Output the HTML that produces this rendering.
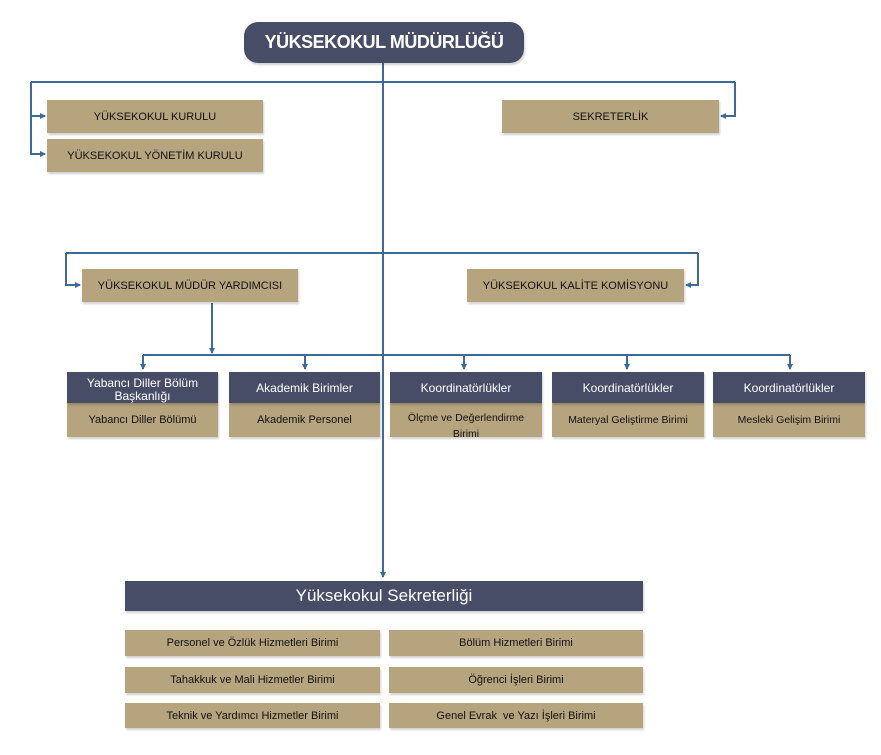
<!DOCTYPE html>
<html><head><meta charset="utf-8"><style>
body{margin:0;background:#fff;width:881px;height:755px;position:relative;overflow:hidden;font-family:"Liberation Sans",sans-serif}
.b{position:absolute;box-sizing:border-box;display:flex;align-items:center;justify-content:center;text-align:center;box-shadow:1px 2px 2px rgba(0,0,0,.18)}
.t{background:#b6a47f;color:#111;font-size:11px}
.d{background:#474d66;color:#fff;font-size:12px}
</style></head><body>
<svg width="881" height="755" style="position:absolute;left:0;top:0">
<defs><marker id="a" markerWidth="6" markerHeight="6" refX="5" refY="3" orient="auto" markerUnits="userSpaceOnUse"><path d="M0,0L6,3L0,6z" fill="#3e6a9a"/></marker></defs>
<g stroke="#3e6a9a" stroke-width="2" fill="none">
<line x1="383" y1="63" x2="383" y2="577" marker-end="url(#a)"/>
<polyline points="31,82 735,82"/>
<polyline points="31,82 31,116 45,116" marker-end="url(#a)"/>
<polyline points="31,116 31,154 45,154" marker-end="url(#a)"/>
<polyline points="735,82 735,116 721,116" marker-end="url(#a)"/>
<polyline points="66,253 698,253"/>
<polyline points="66,253 66,285 80,285" marker-end="url(#a)"/>
<polyline points="698,253 698,285 686,285" marker-end="url(#a)"/>
<line x1="212" y1="303" x2="212" y2="353" marker-end="url(#a)"/>
<line x1="143" y1="355" x2="790" y2="355"/>
<line x1="143" y1="355" x2="143" y2="369" marker-end="url(#a)"/>
<line x1="305" y1="355" x2="305" y2="369" marker-end="url(#a)"/>
<line x1="464" y1="355" x2="464" y2="369" marker-end="url(#a)"/>
<line x1="627" y1="355" x2="627" y2="369" marker-end="url(#a)"/>
<line x1="790" y1="355" x2="790" y2="369" marker-end="url(#a)"/>
</g></svg>
<div class="b d" style="left:244px;top:22px;width:280px;height:41px;border-radius:14px;font-size:18px;font-weight:bold;letter-spacing:-0.5px">YÜKSEKOKUL MÜDÜRLÜĞÜ</div>
<div class="b t" style="left:47px;top:100px;width:216px;height:33px">YÜKSEKOKUL KURULU</div>
<div class="b t" style="left:47px;top:139px;width:216px;height:33px">YÜKSEKOKUL YÖNETİM KURULU</div>
<div class="b t" style="left:502px;top:100px;width:217px;height:33px">SEKRETERLİK</div>
<div class="b t" style="left:82px;top:269px;width:216px;height:33px">YÜKSEKOKUL MÜDÜR YARDIMCISI</div>
<div class="b t" style="left:467px;top:269px;width:217px;height:33px">YÜKSEKOKUL KALİTE KOMİSYONU</div>

<div class="b t" style="left:67px;top:403px;width:151px;height:34px">Yabancı Diller Bölümü</div>
<div class="b d" style="left:67px;top:372px;width:151px;height:31px;line-height:13px;padding-top:4px">Yabancı Diller Bölüm<br>Başkanlığı</div>
<div class="b t" style="left:229px;top:403px;width:151px;height:34px">Akademik Personel</div>
<div class="b d" style="left:229px;top:372px;width:151px;height:31px">Akademik Birimler</div>
<div class="b t" style="left:390px;top:403px;width:152px;height:34px;font-size:10.5px;line-height:16px;padding-top:12px;overflow:hidden">Ölçme ve Değerlendirme<br>Birimi</div>
<div class="b d" style="left:390px;top:372px;width:152px;height:31px">Koordinatörlükler</div>
<div class="b t" style="left:552px;top:403px;width:152px;height:34px;font-size:10.5px">Materyal Geliştirme Birimi</div>
<div class="b d" style="left:552px;top:372px;width:152px;height:31px">Koordinatörlükler</div>
<div class="b t" style="left:713px;top:403px;width:152px;height:34px;font-size:10.5px">Mesleki Gelişim Birimi</div>
<div class="b d" style="left:713px;top:372px;width:152px;height:31px">Koordinatörlükler</div>

<div class="b d" style="left:125px;top:581px;width:518px;height:30px;font-size:17px">Yüksekokul Sekreterliği</div>
<div class="b t" style="left:125px;top:630px;width:255px;height:26px">Personel ve Özlük Hizmetleri Birimi</div>
<div class="b t" style="left:389px;top:630px;width:254px;height:26px">Bölüm Hizmetleri Birimi</div>
<div class="b t" style="left:125px;top:667px;width:255px;height:26px">Tahakkuk ve Mali Hizmetler Birimi</div>
<div class="b t" style="left:389px;top:667px;width:254px;height:26px">Öğrenci İşleri Birimi</div>
<div class="b t" style="left:125px;top:703px;width:255px;height:25px">Teknik ve Yardımcı Hizmetler Birimi</div>
<div class="b t" style="left:389px;top:703px;width:254px;height:25px">Genel Evrak&nbsp; ve Yazı İşleri Birimi</div>
</body></html>
